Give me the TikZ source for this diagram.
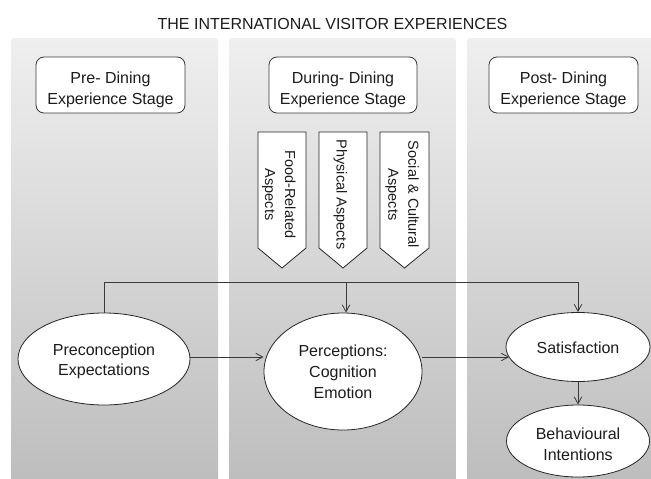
\documentclass[tikz,border=0pt]{standalone}
\usepackage{fontspec}
\setmainfont{Liberation Sans}
\usetikzlibrary{arrows.meta,shapes.geometric}
\definecolor{paneltop}{HTML}{EFEFEF}
\definecolor{panelbot}{HTML}{BDBDBD}
\definecolor{ink}{HTML}{1C1C1C}
\definecolor{edge}{HTML}{3A3A3A}
\begin{document}
\begin{tikzpicture}[x=1pt,y=-1pt,
  every node/.style={text=ink},
  txt/.style={font=\fontsize{16}{20.7}\selectfont, align=center},
  panel/.style={top color=paneltop, bottom color=panelbot, rounded corners=3pt},
  stagebox/.style={txt, draw=edge, fill=white, line width=0.8pt, rounded corners=8pt,
    minimum width=149pt, minimum height=56pt, inner sep=0pt, text height=38pt, text depth=0pt},
  oval/.style={txt, ellipse, draw=black!85, fill=white, line width=0.8pt, inner sep=0pt},
  aspect/.style={draw=black!85, fill=white, line width=0.8pt, line join=miter},
  aspecttext/.style={font=\fontsize{14.5}{20}\selectfont, align=center, rotate=-90, inner sep=0pt},
  link/.style={draw=edge, line width=0.8pt},
  arr/.style={link, -{Straight Barb[length=7pt,width=7.5pt]}},
]
\useasboundingbox (0,0) rectangle (651,479);
\fill[white] (0,0) rectangle (651,479);

% three stage columns
\begin{scope}
  \clip (0,0) rectangle (651,479);
  \path[panel] (11,38) rectangle (218,484);
  \path[panel] (229,38) rectangle (456,484);
  \path[panel] (467,38) rectangle (665,484);
\end{scope}

% heading
\node[txt, anchor=base, inner sep=0pt] (title) at (332.5,30) {THE INTERNATIONAL VISITOR EXPERIENCES};

% stage labels
\node[stagebox] (pre)  at (110.5,85) {Pre- Dining\\Experience Stage};
\node[stagebox, minimum width=148pt] (during) at (343,85) {During- Dining\\Experience Stage};
\node[stagebox] (post) at (563.5,85) {Post- Dining\\Experience Stage};

% aspect pointers of the dining stage
\draw[aspect] (258,132) -- (306,132) -- (306,248) -- (282,268) -- (258,248) -- cycle;
\draw[aspect] (319,132) -- (367,132) -- (367,248) -- (343,268) -- (319,248) -- cycle;
\draw[aspect] (380,132) -- (429,132) -- (429,248) -- (404.5,268) -- (380,248) -- cycle;
\node[aspecttext, text height=34pt, text depth=0pt] (food) at (282,194.5) {Food-Related\\Aspects};
\node[aspecttext, text height=12.6pt, text depth=0pt] (physical) at (343,194.5) {Physical Aspects};
\node[aspecttext, text height=32.4pt, text depth=0pt] (social) at (404.5,194.5) {Social \& Cultural\\Aspects};

% constructs
\node[oval, minimum width=172pt, minimum height=92pt, text height=33.4pt, text depth=0pt]
  (expect) at (104,359) {Preconception\\Expectations};
\node[oval, minimum width=158pt, minimum height=117pt, text height=53.6pt, text depth=0pt]
  (percept) at (343,371.5) {Perceptions:\\Cognition\\Emotion};
\node[oval, minimum width=144pt, minimum height=69pt, text height=12.6pt, text depth=0pt]
  (satis) at (578,347) {Satisfaction};
\node[oval, minimum width=143pt, minimum height=72pt, text height=38pt, text depth=0pt]
  (behav) at (578,441) {Behavioural\\Intentions};

% connectors
\coordinate (rail) at (0,282.3);
\coordinate (tap) at (346,282.3);
\coordinate (mid) at (0,357);
\draw[arr] (expect.north) -- (expect.north |- rail) -- (satis.north |- rail) -- (satis.north);
\draw[arr] (tap) -- (tap |- percept.north);
\draw[arr] (expect.east |- mid) -- (percept.west |- mid);
\draw[arr, shorten >=-3.5pt] (percept.east |- mid) -- (satis.west |- mid);
\draw[arr] (satis.south) -- (behav.north);
\end{tikzpicture}
\end{document}
